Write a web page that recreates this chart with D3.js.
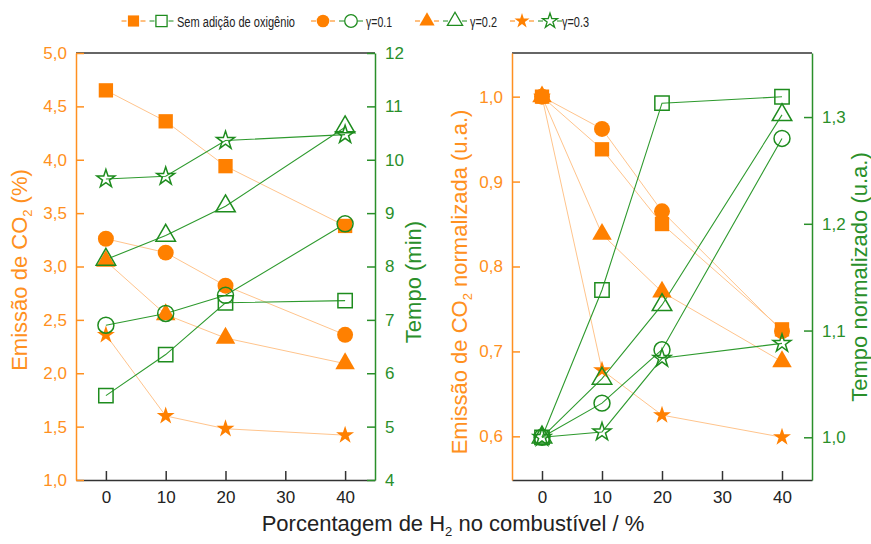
<!DOCTYPE html>
<html>
<head>
<meta charset="utf-8">
<script src="https://cdn.jsdelivr.net/npm/d3@7"></script>
<style>
  body { margin: 0; background: #fff; }
  text { font-family: "Liberation Sans", Arial, sans-serif; }
</style>
</head>
<body>
<div id="chart"></div>
<script>
// H2 percentage in the fuel
const h2 = [0, 10, 20, 40];

// left panel: CO2 emission (%) and time (min)
const co2Sem = [4.65, 4.36, 3.94, 3.38];
const co2G1 = [3.26, 3.13, 2.82, 2.36];
const co2G2 = [3.05, 2.55, 2.33, 2.09];
const co2G3 = [2.36, 1.60, 1.48, 1.42];
const tempoSem = [5.58, 6.35, 7.32, 7.36];
const tempoG1 = [6.90, 7.12, 7.46, 8.80];
const tempoG2 = [8.13, 8.58, 9.13, 10.61];
const tempoG3 = [9.64, 9.69, 10.36, 10.47];

// right panel: normalized values
const normCo2Sem = [1.0, 0.938, 0.85, 0.726];
const normCo2G1 = [1.0, 0.962, 0.865, 0.724];
const normCo2G2 = [1.0, 0.838, 0.77, 0.688];
const normCo2G3 = [1.0, 0.678, 0.625, 0.599];
const normTempoSem = [1.0, 1.138, 1.313, 1.319];
const normTempoG1 = [1.0, 1.032, 1.082, 1.28];
const normTempoG2 = [1.0, 1.055, 1.124, 1.302];
const normTempoG3 = [1.0, 1.005, 1.074, 1.088];

// legend / series names
const seriesNames = ["Sem adição de oxigênio", "γ=0.1", "γ=0.2", "γ=0.3"];

// tick labels
const xTicks = [0, 10, 20, 30, 40];
const co2Ticks = [1.0, 1.5, 2.0, 2.5, 3.0, 3.5, 4.0, 4.5, 5.0];
const tempoTicks = [4, 5, 6, 7, 8, 9, 10, 11, 12];
const normCo2Ticks = [0.6, 0.7, 0.8, 0.9, 1.0];
const normTempoTicks = [1.0, 1.1, 1.2, 1.3];

const orange = "#ff8000";
const orangeAxis = "#ff9020";
const orangeLine = "#ffc48c";
const green = "#1e8c1e";
const greenAxis = "#2a8f2a";
const greenLine = "#2e9a2e";

const width = 871, height = 544;
const plotTop = 53, plotBottom = 480;

const svg = d3.select("#chart").append("svg")
  .attr("width", width)
  .attr("height", height);

const shapes = [d3.symbolSquare, d3.symbolCircle, d3.symbolTriangle, d3.symbolStar];
const sizes = [205, 200, 165, 100];
const legendSizes = [125, 125, 100, 70];

const comma = d => d3.format(".1f")(d).replace(".", ",");

function panel(x0, x1, yL, yR, leftTicks, rightTicks, rightFmt, orangeSets, greenSets) {
  const x = d3.scaleLinear().domain([-5, 45]).range([x0, x1]);
  const yl = d3.scaleLinear().domain(yL).range([plotBottom, plotTop]);
  const yr = d3.scaleLinear().domain(yR).range([plotBottom, plotTop]);

  // top border
  svg.append("line")
    .attr("x1", x0).attr("x2", x1).attr("y1", plotTop).attr("y2", plotTop)
    .attr("stroke", "#333").attr("stroke-width", 1.5);

  // x axis
  const gx = svg.append("g")
    .attr("transform", `translate(0,${plotBottom})`)
    .call(d3.axisBottom(x).tickValues(xTicks).tickSizeInner(-9).tickSizeOuter(0).tickPadding(11));
  gx.select(".domain").attr("stroke", "#333").attr("stroke-width", 1.5);
  gx.selectAll(".tick line").attr("stroke", "#333").attr("stroke-width", 1.5);
  gx.selectAll("text").attr("fill", "#222").style("font-size", "17px");

  // left axis (orange)
  const gl = svg.append("g")
    .attr("transform", `translate(${x0},0)`)
    .call(d3.axisLeft(yl).tickValues(leftTicks).tickFormat(comma).tickSizeInner(-8).tickSizeOuter(0).tickPadding(9));
  gl.select(".domain").attr("stroke", orangeAxis).attr("stroke-width", 1.5);
  gl.selectAll(".tick line").attr("stroke", orangeAxis).attr("stroke-width", 1.5);
  gl.selectAll("text").attr("fill", orangeAxis).style("font-size", "17px");

  // right axis (green)
  const gr = svg.append("g")
    .attr("transform", `translate(${x1},0)`)
    .call(d3.axisRight(yr).tickValues(rightTicks).tickFormat(rightFmt)
      .tickSizeInner(-8).tickSizeOuter(0).tickPadding(10));
  gr.select(".domain").attr("stroke", greenAxis).attr("stroke-width", 1.5);
  gr.selectAll(".tick line").attr("stroke", greenAxis).attr("stroke-width", 1.5);
  gr.selectAll("text").attr("fill", greenAxis).style("font-size", "17px");

  const line = s => d3.line().x((d, i) => x(h2[i])).y(d => s(d));

  orangeSets.forEach(vals => {
    svg.append("path").datum(vals)
      .attr("d", line(yl))
      .attr("fill", "none").attr("stroke", orangeLine).attr("stroke-width", 1);
  });
  greenSets.forEach(vals => {
    svg.append("path").datum(vals)
      .attr("d", line(yr))
      .attr("fill", "none").attr("stroke", greenLine).attr("stroke-width", 1.1);
  });

  orangeSets.forEach((vals, k) => {
    svg.append("g").selectAll("path")
      .data(vals).enter().append("path")
      .attr("transform", (d, i) => `translate(${x(h2[i])},${yl(d)})`)
      .attr("d", d3.symbol().type(shapes[k]).size(sizes[k]))
      .attr("fill", orange);
  });
  greenSets.forEach((vals, k) => {
    svg.append("g").selectAll("path")
      .data(vals).enter().append("path")
      .attr("transform", (d, i) => `translate(${x(h2[i])},${yr(d)})`)
      .attr("d", d3.symbol().type(shapes[k]).size(sizes[k]))
      .attr("fill", "none").attr("stroke", green).attr("stroke-width", 1.5);
  });
}

panel(76, 375, [1, 5], [4, 12], co2Ticks, tempoTicks, d3.format("d"),
  [co2Sem, co2G1, co2G2, co2G3], [tempoSem, tempoG1, tempoG2, tempoG3]);
panel(512, 812, [0.5486, 1.0514], [0.96, 1.36], normCo2Ticks, normTempoTicks, comma,
  [normCo2Sem, normCo2G1, normCo2G2, normCo2G3],
  [normTempoSem, normTempoG1, normTempoG2, normTempoG3]);

// axis titles
function vTitle(xPos, yPos, color, parts) {
  const t = svg.append("text")
    .attr("transform", `translate(${xPos},${yPos}) rotate(-90)`)
    .attr("text-anchor", "middle")
    .attr("fill", color)
    .style("font-size", "22px");
  parts.forEach(p => {
    if (p.sub) {
      t.append("tspan").attr("dy", 5).style("font-size", "13px").text(p.text);
    } else {
      t.append("tspan").attr("dy", p.after ? -5 : 0).text(p.text);
    }
  });
  return t;
}
vTitle(27, 270, orangeAxis, [{ text: "Emissão de CO" }, { text: "2", sub: true }, { text: " (%)", after: true }]);
vTitle(421, 282, greenAxis, [{ text: "Tempo (min)" }]);
vTitle(467, 282, orangeAxis, [{ text: "Emissão de CO" }, { text: "2", sub: true }, { text: " normalizada (u.a.)", after: true }]);
vTitle(867, 277, greenAxis, [{ text: "Tempo normalizado (u.a.)" }]);

const xt = svg.append("text")
  .attr("x", 453).attr("y", 531)
  .attr("text-anchor", "middle")
  .attr("fill", "#222")
  .style("font-size", "22px");
xt.append("tspan").text("Porcentagem de H");
xt.append("tspan").attr("dy", 5).style("font-size", "13px").text("2");
xt.append("tspan").attr("dy", -5).text(" no combustível / %");

// legend
const legendX = [133.5, 323, 427, 522];
const legendTextLen = [118, 26, 27, 27];
const ly = 21;
seriesNames.forEach((name, k) => {
  const cx = legendX[k];
  [[cx, true], [cx + 28, false]].forEach(([c, filled]) => {
    svg.append("line")
      .attr("x1", c - 12).attr("x2", c + 12).attr("y1", ly).attr("y2", ly)
      .attr("stroke", filled ? orange : green).attr("stroke-width", 1);
    svg.append("rect")
      .attr("x", c - 7).attr("y", ly - 8).attr("width", 14).attr("height", 16)
      .attr("fill", "#fff");
    svg.append("path")
      .attr("transform", `translate(${c},${ly})`)
      .attr("d", d3.symbol().type(shapes[k]).size(legendSizes[k]))
      .attr("fill", filled ? orange : "none")
      .attr("stroke", filled ? "none" : green)
      .attr("stroke-width", 1.3);
  });
  svg.append("text")
    .attr("x", cx + (k === 0 ? 43.5 : k === 3 ? 40 : 43)).attr("y", ly + 5.5)
    .attr("fill", "#222")
    .attr("textLength", legendTextLen[k])
    .attr("lengthAdjust", "spacingAndGlyphs")
    .style("font-size", "15.5px")
    .text(name);
});
</script>
</body>
</html>
